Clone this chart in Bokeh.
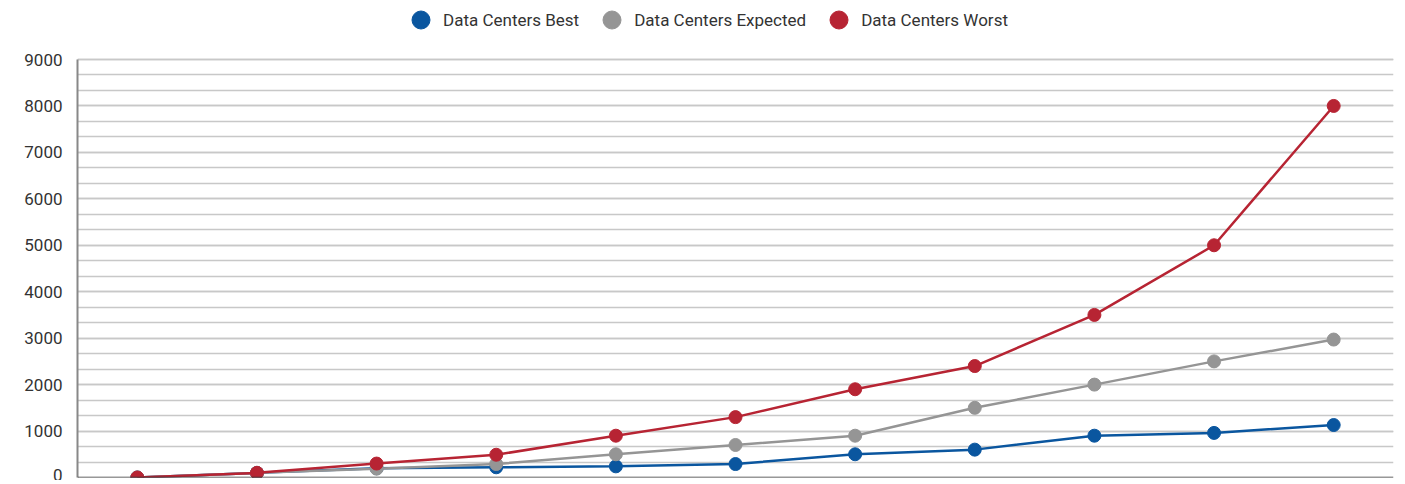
from bokeh.plotting import figure
from bokeh.models import ColumnDataSource, Legend, LegendItem, FixedTicker, Span
from bokeh.embed import file_html
from bokeh.resources import INLINE

years = ["2020", "2021", "2022", "2023", "2024", "2025", "2026", "2027", "2028", "2029", "2030"]
best = [0, 100, 200, 220, 240, 290, 500, 600, 900, 960, 1130]
expected = [0, 100, 190, 290, 500, 700, 900, 1500, 2000, 2500, 2970]
worst = [0, 100, 300, 490, 900, 1300, 1900, 2400, 3500, 5000, 8000]
series_names = ["Data Centers Best", "Data Centers Expected", "Data Centers Worst"]
colors = ["#0A569F", "#959595", "#B72433"]
y_ticks = list(range(0, 9001, 1000))

src = ColumnDataSource(dict(x=years, best=best, expected=expected, worst=worst))

# frame spans the full height so the legend (drawn inside the frame) is not clipped;
# the data area (0..9000) occupies the lower 418 px of the 477 px frame
Y_TOP = 9000 * 477 / 418

p = figure(x_range=years, y_range=(0, Y_TOP), width=1397, height=480,
           output_backend="svg", toolbar_location=None,
           min_border_left=77, min_border_right=4, min_border_top=0, min_border_bottom=3)
p.outline_line_color = None

renderers = []
for key, name, c in zip(["best", "expected", "worst"], series_names, colors):
    l = p.line("x", key, source=src, line_color=c, line_width=2.5)
    s = p.scatter("x", key, source=src, size=13, fill_color=c, line_color=c)
    renderers.append((name, [s]))

legend = Legend(items=[LegendItem(label=n, renderers=r) for n, r in renderers],
                orientation="horizontal", location=(321, 435))
legend.label_text_font = "Roboto"
legend.label_text_font_size = "17px"
legend.label_text_color = "#333333"
legend.border_line_color = None
legend.background_fill_alpha = 0
legend.glyph_width = 45
legend.glyph_height = 45
legend.spacing = 10
legend.margin = 0
legend.padding = 0
legend.label_standoff = -1
p.add_layout(legend, "center")

p.yaxis.ticker = FixedTicker(ticks=y_ticks,
                             minor_ticks=[i * 1000 / 3 for i in range(28)])
p.yaxis.bounds = (0, 9000)
p.yaxis.major_label_text_font = "Roboto"
p.yaxis.major_label_text_font_size = "17px"
p.yaxis.major_label_text_color = "#333333"
p.yaxis.axis_line_color = "#888888"
p.yaxis.axis_line_width = 2
p.yaxis.major_tick_line_color = None
p.yaxis.minor_tick_line_color = None
p.yaxis.major_label_standoff = 9

p.xaxis.visible = False
p.add_layout(Span(location=0, dimension="width", line_color="#333333", line_width=1.5))

p.xgrid.grid_line_color = None
p.ygrid.grid_line_color = "#C8C8C8"
p.ygrid.grid_line_width = 1.5
p.ygrid.minor_grid_line_color = "#C8C8C8"
p.ygrid.minor_grid_line_width = 1.5

open("out.html", "w").write(file_html(p, INLINE))
